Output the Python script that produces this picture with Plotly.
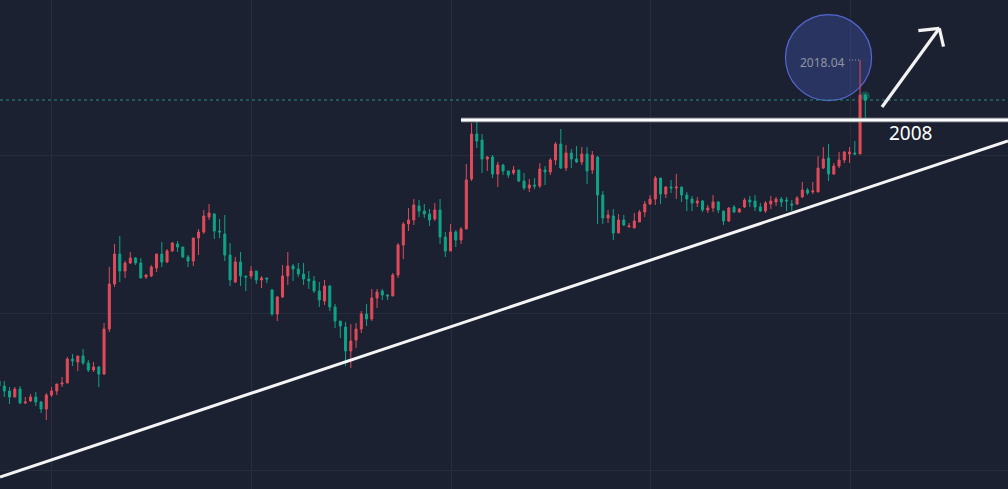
import plotly.graph_objects as go

# Candle index (one per bar)
idx = list(range(166))

opens = [1376, 1366, 1356, 1344, 1360, 1332, 1336, 1344, 1334, 1320,
         1348, 1356, 1370, 1372, 1420, 1414, 1426, 1412, 1398, 1404,
         1390, 1480, 1570, 1630, 1596, 1612, 1622, 1612, 1584, 1586,
         1602, 1630, 1614, 1636, 1650, 1644, 1624, 1616, 1662, 1674,
         1704, 1710, 1676, 1670, 1628, 1574, 1614, 1586, 1586, 1596,
         1578, 1582, 1558, 1510, 1544, 1586, 1606, 1600, 1590, 1580,
         1576, 1556, 1536, 1566, 1524, 1496, 1484, 1436, 1458, 1480,
         1510, 1500, 1542, 1556, 1548, 1546, 1588, 1648, 1690, 1698,
         1726, 1716, 1710, 1700, 1718, 1664, 1636, 1674, 1658, 1680,
         1780, 1870, 1858, 1820, 1824, 1790, 1808, 1796, 1792, 1798,
         1776, 1762, 1768, 1766, 1798, 1794, 1818, 1850, 1802, 1832,
         1820, 1814, 1830, 1798, 1824, 1748, 1702, 1706, 1672, 1698,
         1684, 1682, 1694, 1714, 1730, 1740, 1782, 1750, 1764, 1762,
         1764, 1748, 1740, 1732, 1736, 1718, 1722, 1734, 1716, 1696,
         1724, 1714, 1724, 1738, 1736, 1724, 1716, 1730, 1734, 1740,
         1738, 1730, 1730, 1744, 1758, 1754, 1754, 1802, 1822, 1790,
         1806, 1818, 1830, 1832, 1830, 1948]

highs = [1378, 1376, 1364, 1364, 1366, 1344, 1350, 1354, 1336, 1352,
         1364, 1370, 1384, 1424, 1430, 1426, 1440, 1418, 1414, 1406,
         1492, 1604, 1650, 1666, 1616, 1634, 1624, 1622, 1590, 1608,
         1630, 1654, 1640, 1654, 1656, 1644, 1628, 1662, 1680, 1718,
         1730, 1712, 1700, 1708, 1652, 1624, 1634, 1586, 1606, 1596,
         1586, 1582, 1560, 1546, 1608, 1634, 1610, 1612, 1612, 1596,
         1586, 1574, 1578, 1568, 1530, 1496, 1494, 1490, 1492, 1516,
         1530, 1560, 1560, 1560, 1550, 1592, 1652, 1694, 1722, 1740,
         1738, 1730, 1720, 1732, 1740, 1674, 1690, 1678, 1684, 1810,
         1892, 1896, 1870, 1826, 1828, 1814, 1810, 1796, 1806, 1798,
         1792, 1780, 1782, 1812, 1806, 1822, 1854, 1880, 1848, 1840,
         1846, 1844, 1844, 1836, 1826, 1756, 1718, 1720, 1710, 1708,
         1692, 1712, 1718, 1736, 1748, 1786, 1782, 1766, 1778, 1790,
         1764, 1754, 1746, 1744, 1738, 1728, 1748, 1736, 1716, 1724,
         1728, 1722, 1742, 1746, 1748, 1732, 1736, 1746, 1744, 1744,
         1744, 1738, 1746, 1774, 1762, 1774, 1826, 1844, 1850, 1812,
         1834, 1836, 1844, 1856, 2018.04, 1950]

lows = [1364, 1344, 1330, 1344, 1330, 1330, 1334, 1326, 1312, 1298,
        1344, 1348, 1364, 1372, 1406, 1396, 1408, 1394, 1394, 1364,
        1388, 1474, 1564, 1574, 1582, 1610, 1608, 1582, 1580, 1584,
        1594, 1604, 1612, 1634, 1634, 1622, 1604, 1606, 1628, 1670,
        1698, 1660, 1662, 1616, 1566, 1572, 1566, 1556, 1580, 1570,
        1562, 1572, 1506, 1496, 1542, 1568, 1576, 1584, 1568, 1560,
        1552, 1524, 1528, 1516, 1482, 1462, 1406, 1402, 1442, 1472,
        1486, 1496, 1522, 1538, 1538, 1546, 1582, 1620, 1676, 1688,
        1704, 1702, 1686, 1696, 1650, 1624, 1636, 1644, 1650, 1680,
        1776, 1842, 1792, 1796, 1782, 1764, 1788, 1782, 1788, 1774,
        1758, 1754, 1760, 1762, 1768, 1788, 1808, 1800, 1796, 1802,
        1812, 1808, 1770, 1790, 1690, 1690, 1692, 1658, 1672, 1686,
        1684, 1682, 1694, 1704, 1728, 1728, 1730, 1742, 1752, 1740,
        1734, 1716, 1716, 1724, 1714, 1712, 1714, 1712, 1688, 1694,
        1712, 1712, 1722, 1724, 1716, 1714, 1712, 1720, 1726, 1724,
        1716, 1716, 1728, 1742, 1748, 1750, 1754, 1800, 1776, 1788,
        1802, 1812, 1812, 1828, 1830, 1896]

closes = [1366, 1356, 1344, 1360, 1332, 1334, 1344, 1334, 1320, 1348,
          1356, 1370, 1372, 1420, 1416, 1426, 1412, 1398, 1404, 1390,
          1480, 1570, 1630, 1596, 1612, 1622, 1612, 1582, 1588, 1604,
          1630, 1614, 1636, 1652, 1644, 1624, 1616, 1662, 1674, 1706,
          1712, 1676, 1674, 1628, 1578, 1614, 1586, 1584, 1596, 1578,
          1582, 1580, 1510, 1544, 1586, 1606, 1600, 1590, 1580, 1576,
          1556, 1538, 1566, 1524, 1496, 1486, 1436, 1456, 1480, 1510,
          1500, 1542, 1554, 1548, 1546, 1588, 1648, 1690, 1698, 1728,
          1716, 1710, 1698, 1718, 1664, 1636, 1674, 1658, 1680, 1778,
          1870, 1856, 1820, 1824, 1790, 1808, 1796, 1788, 1798, 1776,
          1762, 1768, 1766, 1800, 1794, 1818, 1850, 1802, 1832, 1820,
          1814, 1830, 1796, 1828, 1748, 1702, 1708, 1672, 1698, 1688,
          1686, 1696, 1714, 1730, 1740, 1782, 1750, 1764, 1762, 1764,
          1748, 1740, 1732, 1736, 1718, 1722, 1734, 1718, 1696, 1722,
          1714, 1720, 1738, 1734, 1724, 1716, 1732, 1736, 1740, 1734,
          1736, 1728, 1742, 1758, 1752, 1756, 1802, 1820, 1790, 1806,
          1818, 1834, 1834, 1830, 1948, 1938]

# Annotation values
peak_label = "2018.04"
resistance_label = "2008"
resistance_level = 1898
resistance_start = 88
trend_start = (0.181, 1184)
trend_end = (192.18, 1856)
last_price = closes[-1]

UP = "#e04b5a"
DOWN = "#0fa387"
BG = "#1b2130"
GRID = "#262d3c"

X_RANGE = [0.181, 192.18]
Y_RANGE = [1160, 2138]

fig = go.Figure()

fig.add_trace(go.Candlestick(
    x=idx, open=opens, high=highs, low=lows, close=closes,
    increasing=dict(line=dict(color=UP, width=1), fillcolor=UP),
    decreasing=dict(line=dict(color=DOWN, width=1), fillcolor=DOWN),
    whiskerwidth=0, hoverinfo="skip", showlegend=False,
))

# glow on the last bar
fig.add_trace(go.Scatter(
    x=[idx[-1]], y=[opens[-1] - 2], mode="markers",
    marker=dict(size=9, color="rgba(20,170,140,0.35)", line=dict(width=0)),
    hoverinfo="skip", showlegend=False,
))

shapes = []
# highlight circle
shapes.append(dict(type="circle", xref="x", yref="y",
                   x0=149.8, x1=166.2, y0=1936.6, y1=2108.6,
                   fillcolor="rgba(62,84,170,0.40)",
                   line=dict(color="#5567d6", width=1.2), layer="between"))
# last price dashed line
shapes.append(dict(type="line", xref="x", yref="y",
                   x0=X_RANGE[0], x1=X_RANGE[1], y0=last_price, y1=last_price,
                   line=dict(color="#1f8f78", width=1, dash="3px,3px"), layer="between"))
# resistance line (2008)
shapes.append(dict(type="line", xref="x", yref="y",
                   x0=resistance_start, x1=X_RANGE[1], y0=resistance_level, y1=resistance_level,
                   line=dict(color="#9a9ea6", width=4.5), layer="above"))
shapes.append(dict(type="line", xref="x", yref="y",
                   x0=resistance_start, x1=X_RANGE[1], y0=resistance_level, y1=resistance_level,
                   line=dict(color="#ffffff", width=2.5), layer="above"))
# rising trend line
shapes.append(dict(type="line", xref="x", yref="y",
                   x0=trend_start[0], y0=trend_start[1], x1=trend_end[0], y1=trend_end[1],
                   line=dict(color="#f4f4f4", width=3), layer="above"))
# arrow
arrow_col = "#f2f2f2"
shapes.append(dict(type="line", xref="x", yref="y", x0=168.18, y0=1924, x1=179.1, y1=2081.4,
                   line=dict(color=arrow_col, width=3.2), layer="above"))
shapes.append(dict(type="line", xref="x", yref="y", x0=175.1, y0=2076.6, x1=179.1, y1=2081.4,
                   line=dict(color=arrow_col, width=3.2), layer="above"))
shapes.append(dict(type="line", xref="x", yref="y", x0=179.9, y0=2044.6, x1=179.1, y1=2081.4,
                   line=dict(color=arrow_col, width=3.2), layer="above"))
# dotted leader from peak label to wick top
shapes.append(dict(type="line", xref="x", yref="y", x0=161.9, x1=164.0, y0=2018.04, y1=2018.04,
                   line=dict(color="#9aa0ad", width=1, dash="1px,2px"), layer="above"))

fig.update_layout(shapes=shapes)

fig.add_annotation(x=173.7, y=1872, xref="x", yref="y", text=resistance_label,
                   showarrow=False, xanchor="center", yanchor="middle",
                   font=dict(family="Noto Sans", size=19, color="#ffffff"))
fig.add_annotation(x=161.6, y=2013, xref="x", yref="y", text=peak_label,
                   showarrow=False, xanchor="right", yanchor="middle",
                   font=dict(family="Noto Sans", size=12, color="#8f95a3"))

fig.update_layout(
    width=1008, height=489,
    margin=dict(l=0, r=0, t=0, b=0),
    paper_bgcolor=BG, plot_bgcolor=BG,
    boxgap=0.45,
    xaxis=dict(range=X_RANGE, showticklabels=False, showgrid=True, gridcolor=GRID,
               gridwidth=1, tickvals=[9.9, 48.0, 86.1, 124.0, 162.1], zeroline=False,
               showline=False, rangeslider=dict(visible=False), ticks=""),
    yaxis=dict(range=Y_RANGE, showticklabels=False, showgrid=True, gridcolor=GRID,
               gridwidth=1, tickvals=[1197, 1512, 1827], zeroline=False,
               showline=False, ticks=""),
    hovermode=False,
)

fig.write_html("out.html")
